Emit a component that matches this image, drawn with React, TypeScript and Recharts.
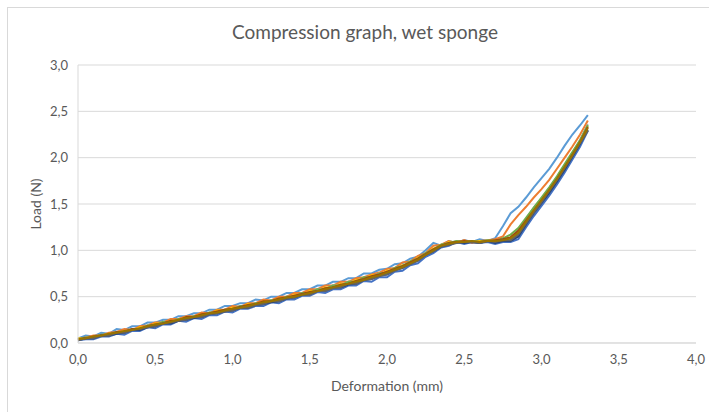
import { CartesianGrid, Line, LineChart, XAxis, YAxis } from "recharts";

// deformation (mm), sampled every 0.05 mm from 0 to 3.3
const deformation: number[] = [
  0.0, 0.05, 0.1, 0.15, 0.2, 0.25, 0.3, 0.35, 0.4, 0.45,
  0.5, 0.55, 0.6, 0.65, 0.7, 0.75, 0.8, 0.85, 0.9, 0.95,
  1.0, 1.05, 1.1, 1.15, 1.2, 1.25, 1.3, 1.35, 1.4, 1.45,
  1.5, 1.55, 1.6, 1.65, 1.7, 1.75, 1.8, 1.85, 1.9, 1.95,
  2.0, 2.05, 2.1, 2.15, 2.2, 2.25, 2.3, 2.35, 2.4, 2.45,
  2.5, 2.55, 2.6, 2.65, 2.7, 2.75, 2.8, 2.85, 2.9, 2.95,
  3.0, 3.05, 3.1, 3.15, 3.2, 3.25, 3.3,
];

// load (N) for each test run
const run1 = [
  0.05, 0.08, 0.07, 0.11, 0.1, 0.15, 0.14, 0.18, 0.18, 0.22,
  0.22, 0.25, 0.25, 0.29, 0.29, 0.32, 0.32, 0.36, 0.36, 0.4,
  0.4, 0.43, 0.43, 0.47, 0.46, 0.5, 0.5, 0.54, 0.54, 0.58,
  0.58, 0.62, 0.62, 0.66, 0.66, 0.7, 0.7, 0.75, 0.75, 0.79,
  0.8, 0.85, 0.86, 0.91, 0.93, 1.0, 1.08, 1.05, 1.1, 1.08,
  1.11, 1.09, 1.12, 1.1, 1.13, 1.26, 1.4, 1.47, 1.57, 1.68,
  1.78, 1.88, 2.0, 2.13, 2.25, 2.35, 2.46,
];
const run2 = [
  0.04, 0.06, 0.08, 0.08, 0.11, 0.12, 0.15, 0.14, 0.18, 0.19,
  0.22, 0.22, 0.26, 0.26, 0.29, 0.29, 0.33, 0.32, 0.36, 0.36,
  0.4, 0.39, 0.43, 0.43, 0.47, 0.46, 0.5, 0.5, 0.54, 0.54,
  0.58, 0.58, 0.62, 0.62, 0.66, 0.66, 0.7, 0.71, 0.74, 0.76,
  0.8, 0.81, 0.87, 0.88, 0.94, 0.97, 1.05, 1.06, 1.1, 1.08,
  1.11, 1.08, 1.1, 1.11, 1.12, 1.15, 1.28, 1.38, 1.47, 1.57,
  1.66, 1.76, 1.88, 2.0, 2.12, 2.25, 2.4,
];
const run3 = [
  0.04, 0.05, 0.06, 0.09, 0.08, 0.12, 0.11, 0.15, 0.15, 0.19,
  0.19, 0.22, 0.22, 0.26, 0.26, 0.29, 0.29, 0.33, 0.33, 0.36,
  0.36, 0.4, 0.39, 0.43, 0.43, 0.46, 0.46, 0.5, 0.5, 0.54,
  0.54, 0.58, 0.58, 0.62, 0.62, 0.66, 0.66, 0.7, 0.71, 0.75,
  0.76, 0.8, 0.82, 0.87, 0.9, 0.96, 1.0, 1.06, 1.07, 1.1,
  1.08, 1.1, 1.09, 1.1, 1.09, 1.12, 1.13, 1.22, 1.34, 1.46,
  1.56, 1.67, 1.79, 1.92, 2.05, 2.19, 2.36,
];
const run4 = [
  0.05, 0.05, 0.07, 0.07, 0.1, 0.1, 0.13, 0.13, 0.17, 0.17,
  0.21, 0.21, 0.24, 0.24, 0.28, 0.28, 0.31, 0.31, 0.35, 0.35,
  0.38, 0.38, 0.42, 0.41, 0.45, 0.45, 0.48, 0.48, 0.52, 0.52,
  0.56, 0.56, 0.6, 0.6, 0.64, 0.64, 0.68, 0.69, 0.73, 0.73,
  0.78, 0.79, 0.84, 0.86, 0.92, 0.95, 1.02, 1.04, 1.09, 1.09,
  1.1, 1.09, 1.1, 1.1, 1.11, 1.11, 1.14, 1.2, 1.33, 1.44,
  1.55, 1.66, 1.78, 1.91, 2.04, 2.17, 2.34,
];
const run5 = [
  0.03, 0.04, 0.04, 0.07, 0.07, 0.1, 0.09, 0.13, 0.13, 0.17,
  0.16, 0.2, 0.2, 0.24, 0.23, 0.27, 0.26, 0.3, 0.3, 0.34,
  0.33, 0.37, 0.37, 0.4, 0.4, 0.44, 0.43, 0.47, 0.47, 0.51,
  0.51, 0.55, 0.54, 0.58, 0.58, 0.62, 0.62, 0.67, 0.66, 0.71,
  0.71, 0.77, 0.78, 0.84, 0.86, 0.93, 0.97, 1.03, 1.05, 1.09,
  1.07, 1.09, 1.08, 1.09, 1.07, 1.09, 1.09, 1.12, 1.25, 1.37,
  1.48, 1.59, 1.71, 1.84, 1.98, 2.12, 2.29,
];
const run6 = [
  0.04, 0.06, 0.06, 0.09, 0.09, 0.12, 0.12, 0.15, 0.15, 0.19,
  0.19, 0.23, 0.22, 0.26, 0.26, 0.29, 0.29, 0.33, 0.33, 0.36,
  0.36, 0.4, 0.4, 0.43, 0.43, 0.46, 0.46, 0.5, 0.5, 0.54,
  0.54, 0.58, 0.58, 0.62, 0.62, 0.66, 0.66, 0.71, 0.71, 0.75,
  0.76, 0.81, 0.83, 0.88, 0.91, 0.97, 1.01, 1.06, 1.08, 1.1,
  1.09, 1.1, 1.09, 1.11, 1.1, 1.13, 1.17, 1.24, 1.35, 1.46,
  1.57, 1.68, 1.8, 1.93, 2.06, 2.19, 2.35,
];
const run7 = [
  0.03, 0.05, 0.05, 0.08, 0.08, 0.1, 0.11, 0.14, 0.14, 0.17,
  0.18, 0.21, 0.21, 0.24, 0.25, 0.27, 0.28, 0.31, 0.32, 0.34,
  0.35, 0.38, 0.38, 0.41, 0.42, 0.44, 0.45, 0.48, 0.49, 0.52,
  0.53, 0.56, 0.56, 0.6, 0.6, 0.63, 0.64, 0.68, 0.69, 0.73,
  0.74, 0.79, 0.81, 0.86, 0.89, 0.95, 0.99, 1.04, 1.06, 1.09,
  1.08, 1.09, 1.08, 1.1, 1.08, 1.1, 1.1, 1.15, 1.28, 1.4,
  1.51, 1.62, 1.74, 1.87, 2.01, 2.15, 2.3,
];
const run8 = [
  0.04, 0.05, 0.07, 0.08, 0.09, 0.12, 0.12, 0.15, 0.15, 0.18,
  0.2, 0.21, 0.24, 0.24, 0.28, 0.28, 0.31, 0.32, 0.34, 0.36,
  0.37, 0.39, 0.41, 0.42, 0.45, 0.45, 0.48, 0.49, 0.51, 0.53,
  0.55, 0.56, 0.59, 0.6, 0.63, 0.64, 0.67, 0.69, 0.72, 0.74,
  0.77, 0.8, 0.83, 0.87, 0.91, 0.96, 1.01, 1.05, 1.08, 1.09,
  1.1, 1.09, 1.09, 1.1, 1.11, 1.12, 1.14, 1.21, 1.32, 1.43,
  1.54, 1.65, 1.77, 1.9, 2.03, 2.17, 2.33,
];
const run9 = [
  0.03, 0.05, 0.05, 0.08, 0.08, 0.11, 0.11, 0.14, 0.15, 0.17,
  0.18, 0.21, 0.22, 0.24, 0.25, 0.28, 0.28, 0.31, 0.32, 0.34,
  0.35, 0.38, 0.38, 0.41, 0.42, 0.45, 0.45, 0.48, 0.49, 0.52,
  0.52, 0.56, 0.56, 0.59, 0.6, 0.64, 0.64, 0.68, 0.69, 0.72,
  0.74, 0.78, 0.81, 0.85, 0.89, 0.95, 0.99, 1.04, 1.06, 1.08,
  1.09, 1.09, 1.08, 1.1, 1.09, 1.11, 1.11, 1.17, 1.29, 1.41,
  1.52, 1.64, 1.76, 1.89, 2.02, 2.16, 2.29,
];
const run10 = [
  0.04, 0.05, 0.07, 0.08, 0.1, 0.11, 0.13, 0.14, 0.16, 0.18,
  0.2, 0.21, 0.23, 0.25, 0.27, 0.28, 0.3, 0.32, 0.33, 0.35,
  0.37, 0.38, 0.4, 0.42, 0.44, 0.45, 0.47, 0.49, 0.5, 0.52,
  0.54, 0.56, 0.58, 0.6, 0.62, 0.64, 0.66, 0.68, 0.71, 0.73,
  0.76, 0.79, 0.82, 0.86, 0.9, 0.95, 1.0, 1.05, 1.07, 1.09,
  1.09, 1.1, 1.09, 1.1, 1.1, 1.11, 1.13, 1.19, 1.31, 1.43,
  1.54, 1.65, 1.77, 1.9, 2.03, 2.17, 2.32,
];

const runs = [run1, run2, run3, run4, run5, run6, run7, run8, run9, run10];
const COLORS = [
  "#5B9BD5", "#ED7D31", "#A5A5A5", "#FFC000", "#4472C4",
  "#70AD47", "#264478", "#9E480E", "#636363", "#997300",
];

const xTicks = [0, 0.5, 1, 1.5, 2, 2.5, 3, 3.5, 4];
const yTicks = [0, 0.5, 1, 1.5, 2, 2.5, 3];

const data = deformation.map((x, i) => {
  const row: Record<string, number> = { x };
  runs.forEach((r, k) => {
    row[`run${k + 1}`] = r[i];
  });
  return row;
});

const fmt = (v: number) => v.toFixed(1).replace(".", ",");
const FONT = "Lato, 'Open Sans', sans-serif";

const App = () => {
  return (
    <div style={{ position: "absolute", left: 0, top: 0, width: 709, height: 412, background: "#fff", fontFamily: FONT }}>
      <div
        style={{
          position: "absolute",
          left: 7,
          top: 7,
          width: 702,
          height: 405,
          borderLeft: "1px solid #d9d9d9",
          borderTop: "1px solid #d9d9d9",
        }}
      />
      <div
        style={{
          position: "absolute",
          left: 0,
          top: 20,
          width: 730,
          textAlign: "center",
          fontSize: 19,
          color: "#595959",
        }}
      >
        Compression graph, wet sponge
      </div>
      <div style={{ position: "absolute", left: 0, top: 0 }}>
        <LineChart width={709} height={412} data={data} margin={{ top: 65, right: 13, bottom: 19, left: 0 }}>
          <CartesianGrid vertical={false} stroke="#d9d9d9" />
          <XAxis
            dataKey="x"
            type="number"
            domain={[0, 4]}
            ticks={xTicks}
            tickFormatter={fmt}
            tickLine={false}
            axisLine={{ stroke: "#d9d9d9" }}
            tick={{ fill: "#595959", fontSize: 13, fontFamily: FONT }}
            tickSize={0}
            tickMargin={12}
            height={50}
            label={{ value: "Deformation (mm)", position: "insideBottom", offset: 2, fill: "#595959", fontSize: 14, fontFamily: FONT }}
          />
          <YAxis
            type="number"
            domain={[0, 3]}
            ticks={yTicks}
            tickFormatter={fmt}
            tickLine={false}
            axisLine={{ stroke: "#d9d9d9" }}
            tick={{ fill: "#595959", fontSize: 13, fontFamily: FONT }}
            tickSize={0}
            tickMargin={10}
            width={78}
            label={{ value: "Load (N)", angle: -90, position: "center", dx: -3, fill: "#595959", fontSize: 14, fontFamily: FONT }}
          />
          {runs.map((_, k) => (
            <Line
              key={k}
              dataKey={`run${k + 1}`}
              stroke={COLORS[k]}
              strokeWidth={2}
              dot={false}
              isAnimationActive={false}
            />
          ))}
        </LineChart>
      </div>
    </div>
  );
};

export default App;
